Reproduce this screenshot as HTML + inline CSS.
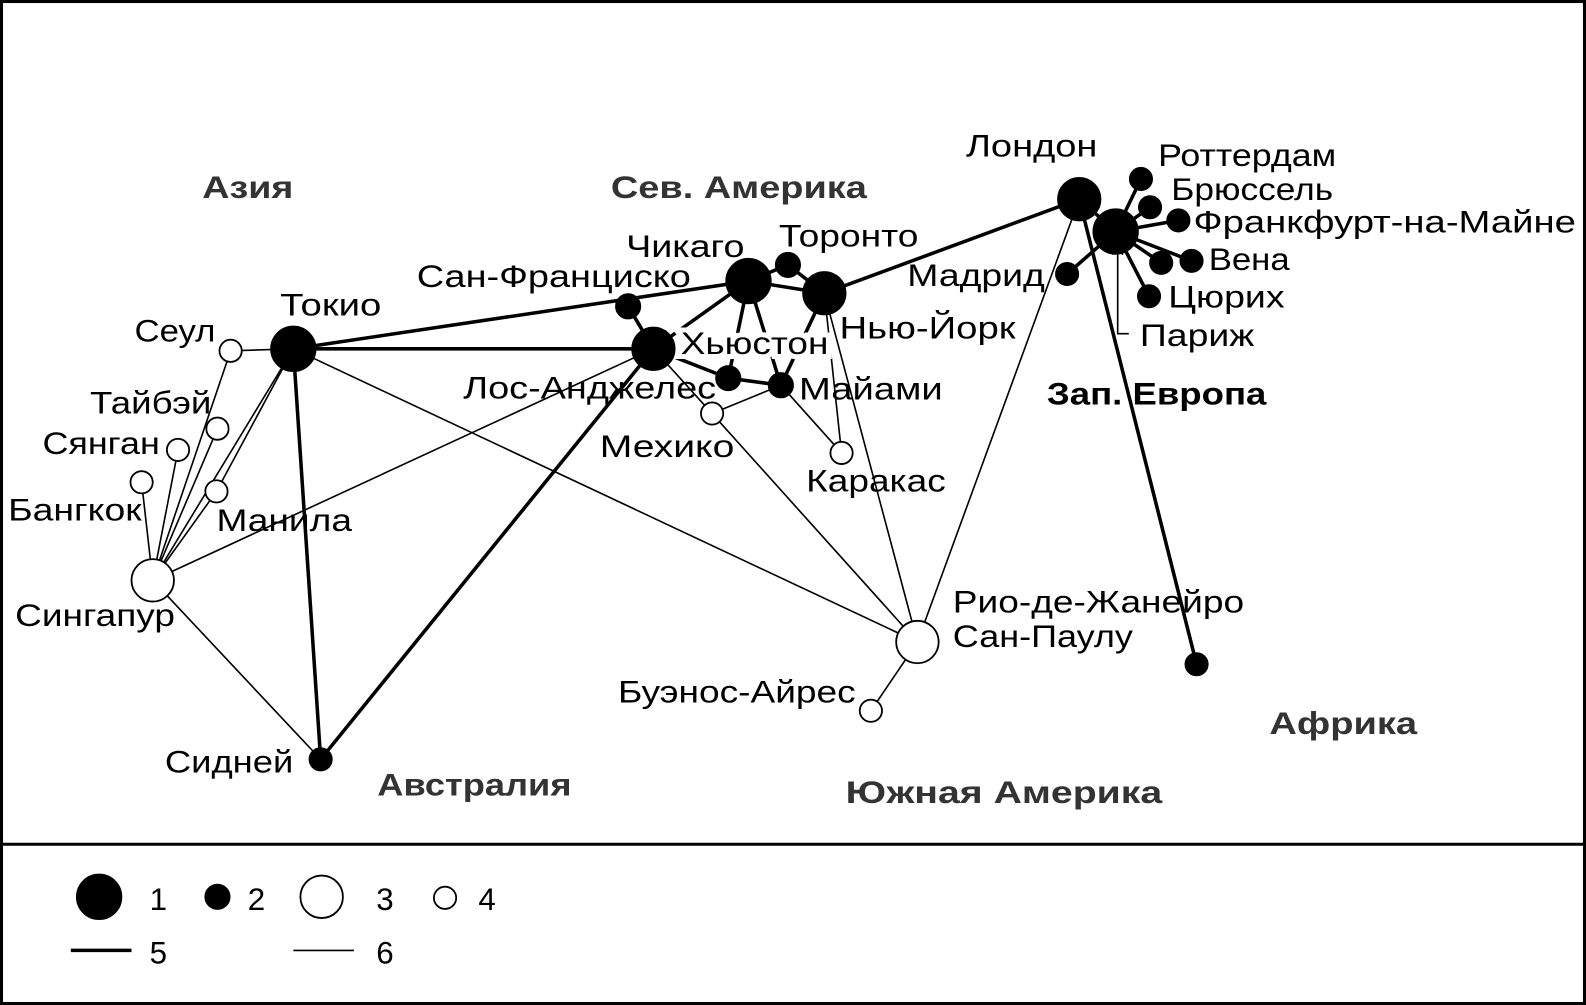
<!DOCTYPE html>
<html><head><meta charset="utf-8"><style>
html,body{margin:0;padding:0;background:#fff;width:1586px;height:1005px;overflow:hidden}
svg{display:block}
text{font-family:"Liberation Sans",sans-serif;font-size:31px;fill:#000}
.b{font-weight:bold;fill:#333}
</style></head><body>
<svg width="1586" height="1005" viewBox="0 0 1568 994" preserveAspectRatio="none">
<rect x="1.5" y="1.5" width="1565" height="991" fill="#fff" stroke="#000" stroke-width="3"/>
<line x1="0" y1="835" x2="1568" y2="835" stroke="#000" stroke-width="3"/>
<g stroke="#000" stroke-width="1.6" fill="none">
<line x1="290" y1="345" x2="151" y2="574"/>
<line x1="290" y1="345" x2="214" y2="486"/>
<line x1="290" y1="345" x2="228" y2="347"/>
<line x1="228" y1="347" x2="151" y2="574"/>
<line x1="215" y1="424" x2="151" y2="574"/>
<line x1="176" y1="445" x2="151" y2="574"/>
<line x1="140" y1="477" x2="151" y2="574"/>
<line x1="214" y1="486" x2="151" y2="574"/>
<line x1="151" y1="574" x2="646" y2="345"/>
<line x1="151" y1="574" x2="317" y2="751"/>
<line x1="290" y1="345" x2="907" y2="635"/>
<line x1="704" y1="409" x2="907" y2="635"/>
<line x1="704" y1="409" x2="772" y2="381"/>
<line x1="704" y1="409" x2="646" y2="345"/>
<line x1="772" y1="381" x2="832" y2="448"/>
<line x1="815" y1="290" x2="832" y2="448"/>
<line x1="815" y1="290" x2="907" y2="635"/>
<line x1="1067" y1="197" x2="907" y2="635"/>
<line x1="907" y1="635" x2="861" y2="703"/>
<polyline points="1105,240 1105,330 1116,330"/>
<polyline points="1100,252 1105,240 1110,252"/>
</g>
<g stroke="#000" stroke-width="3.5" fill="none">
<line x1="290" y1="345" x2="740" y2="278"/>
<line x1="290" y1="345" x2="646" y2="345"/>
<line x1="290" y1="345" x2="317" y2="751"/>
<line x1="317" y1="751" x2="646" y2="345"/>
<line x1="621" y1="303" x2="646" y2="345"/>
<line x1="646" y1="345" x2="740" y2="278"/>
<line x1="646" y1="345" x2="720" y2="374"/>
<line x1="720" y1="374" x2="772" y2="381"/>
<line x1="740" y1="278" x2="815" y2="290"/>
<line x1="740" y1="278" x2="779" y2="262"/>
<line x1="779" y1="262" x2="815" y2="290"/>
<line x1="740" y1="278" x2="720" y2="374"/>
<line x1="740" y1="278" x2="772" y2="381"/>
<line x1="815" y1="290" x2="772" y2="381"/>
<line x1="815" y1="290" x2="1067" y2="197"/>
<line x1="1067" y1="197" x2="1103" y2="229"/>
<line x1="1067" y1="197" x2="1183" y2="657"/>
<line x1="1103" y1="229" x2="1055" y2="271"/>
<line x1="1103" y1="229" x2="1128" y2="177"/>
<line x1="1103" y1="229" x2="1137" y2="205"/>
<line x1="1103" y1="229" x2="1165" y2="218"/>
<line x1="1103" y1="229" x2="1178" y2="258"/>
<line x1="1103" y1="229" x2="1148" y2="260"/>
<line x1="1103" y1="229" x2="1136" y2="293"/>
</g>
<text x="673" y="350" textLength="146" lengthAdjust="spacingAndGlyphs" stroke="#fff" stroke-width="10" paint-order="stroke">Хьюстон</text>
<g stroke="#000" stroke-width="1.8">
<circle cx="290" cy="345" r="22" fill="#000"/>
<circle cx="228" cy="347" r="11" fill="#fff"/>
<circle cx="215" cy="424" r="11" fill="#fff"/>
<circle cx="176" cy="445" r="11" fill="#fff"/>
<circle cx="140" cy="477" r="11" fill="#fff"/>
<circle cx="214" cy="486" r="11" fill="#fff"/>
<circle cx="151" cy="574" r="21" fill="#fff"/>
<circle cx="317" cy="751" r="11" fill="#000"/>
<circle cx="621" cy="303" r="12" fill="#000"/>
<circle cx="646" cy="345" r="21" fill="#000"/>
<circle cx="740" cy="278" r="22" fill="#000"/>
<circle cx="779" cy="262" r="12" fill="#000"/>
<circle cx="815" cy="290" r="21" fill="#000"/>
<circle cx="720" cy="374" r="12" fill="#000"/>
<circle cx="772" cy="381" r="12" fill="#000"/>
<circle cx="704" cy="409" r="11" fill="#fff"/>
<circle cx="832" cy="448" r="11" fill="#fff"/>
<circle cx="1067" cy="197" r="21" fill="#000"/>
<circle cx="1103" cy="229" r="22" fill="#000"/>
<circle cx="1128" cy="177" r="11" fill="#000"/>
<circle cx="1137" cy="205" r="11" fill="#000"/>
<circle cx="1165" cy="218" r="11" fill="#000"/>
<circle cx="1178" cy="258" r="11" fill="#000"/>
<circle cx="1148" cy="260" r="11" fill="#000"/>
<circle cx="1136" cy="293" r="11" fill="#000"/>
<circle cx="1055" cy="271" r="11" fill="#000"/>
<circle cx="1183" cy="657" r="11" fill="#000"/>
<circle cx="907" cy="635" r="21" fill="#fff"/>
<circle cx="861" cy="703" r="11" fill="#fff"/>
<circle cx="98" cy="887" r="22" fill="#000"/>
<circle cx="215" cy="887" r="12" fill="#000"/>
<circle cx="318" cy="887" r="21" fill="#fff"/>
<circle cx="440" cy="888" r="11" fill="#fff"/>
</g>
<line x1="70" y1="940" x2="130" y2="940" stroke="#000" stroke-width="3.5"/>
<line x1="290" y1="940" x2="350" y2="940" stroke="#000" stroke-width="1.6"/>
<g>
<text class="b" x="200" y="196" textLength="90" lengthAdjust="spacingAndGlyphs">Азия</text>
<text class="b" x="604" y="196" textLength="253" lengthAdjust="spacingAndGlyphs">Сев. Америка</text>
<text x="955" y="155" textLength="130" lengthAdjust="spacingAndGlyphs">Лондон</text>
<text x="1145" y="164" textLength="176" lengthAdjust="spacingAndGlyphs">Роттердам</text>
<text x="1158" y="198" textLength="160" lengthAdjust="spacingAndGlyphs">Брюссель</text>
<text x="1180" y="230" textLength="378" lengthAdjust="spacingAndGlyphs">Франкфурт-на-Майне</text>
<text x="1195" y="267" textLength="80" lengthAdjust="spacingAndGlyphs">Вена</text>
<text x="1155" y="304" textLength="115" lengthAdjust="spacingAndGlyphs">Цюрих</text>
<text x="1127" y="342" textLength="113" lengthAdjust="spacingAndGlyphs">Париж</text>
<text x="897" y="283" textLength="136" lengthAdjust="spacingAndGlyphs">Мадрид</text>
<text class="b" x="1035" y="400" textLength="217" lengthAdjust="spacingAndGlyphs" style="fill:#000">Зап. Европа</text>
<text x="770" y="244" textLength="138" lengthAdjust="spacingAndGlyphs">Торонто</text>
<text x="619" y="254" textLength="117" lengthAdjust="spacingAndGlyphs">Чикаго</text>
<text x="412" y="284" textLength="271" lengthAdjust="spacingAndGlyphs">Сан-Франциско</text>
<text x="277" y="312" textLength="100" lengthAdjust="spacingAndGlyphs">Токио</text>
<text x="133" y="338" textLength="80" lengthAdjust="spacingAndGlyphs">Сеул</text>
<text x="830" y="335" textLength="174" lengthAdjust="spacingAndGlyphs">Нью-Йорк</text>
<text x="458" y="394" textLength="250" lengthAdjust="spacingAndGlyphs">Лос-Анджелес</text>
<text x="790" y="395" textLength="142" lengthAdjust="spacingAndGlyphs">Майами</text>
<text x="593" y="452" textLength="133" lengthAdjust="spacingAndGlyphs">Мехико</text>
<text x="797" y="486" textLength="138" lengthAdjust="spacingAndGlyphs">Каракас</text>
<text x="89" y="409" textLength="120" lengthAdjust="spacingAndGlyphs">Тайбэй</text>
<text x="42" y="449" textLength="116" lengthAdjust="spacingAndGlyphs">Сянган</text>
<text x="8" y="515" textLength="132" lengthAdjust="spacingAndGlyphs">Бангкок</text>
<text x="214" y="525" textLength="134" lengthAdjust="spacingAndGlyphs">Манила</text>
<text x="15" y="619" textLength="158" lengthAdjust="spacingAndGlyphs">Сингапур</text>
<text x="942" y="606" textLength="288" lengthAdjust="spacingAndGlyphs">Рио-де-Жанейро</text>
<text x="942" y="640" textLength="178" lengthAdjust="spacingAndGlyphs">Сан-Паулу</text>
<text x="611" y="695" textLength="235" lengthAdjust="spacingAndGlyphs">Буэнос-Айрес</text>
<text x="163" y="764" textLength="127" lengthAdjust="spacingAndGlyphs">Сидней</text>
<text class="b" x="373" y="787" textLength="192" lengthAdjust="spacingAndGlyphs">Австралия</text>
<text class="b" x="836" y="794" textLength="313" lengthAdjust="spacingAndGlyphs">Южная Америка</text>
<text class="b" x="1255" y="726" textLength="146" lengthAdjust="spacingAndGlyphs">Африка</text>
<text x="148" y="900">1</text>
<text x="245" y="900">2</text>
<text x="372" y="900">3</text>
<text x="473" y="900">4</text>
<text x="148" y="953">5</text>
<text x="372" y="953">6</text>
</g>
</svg>
</body></html>
